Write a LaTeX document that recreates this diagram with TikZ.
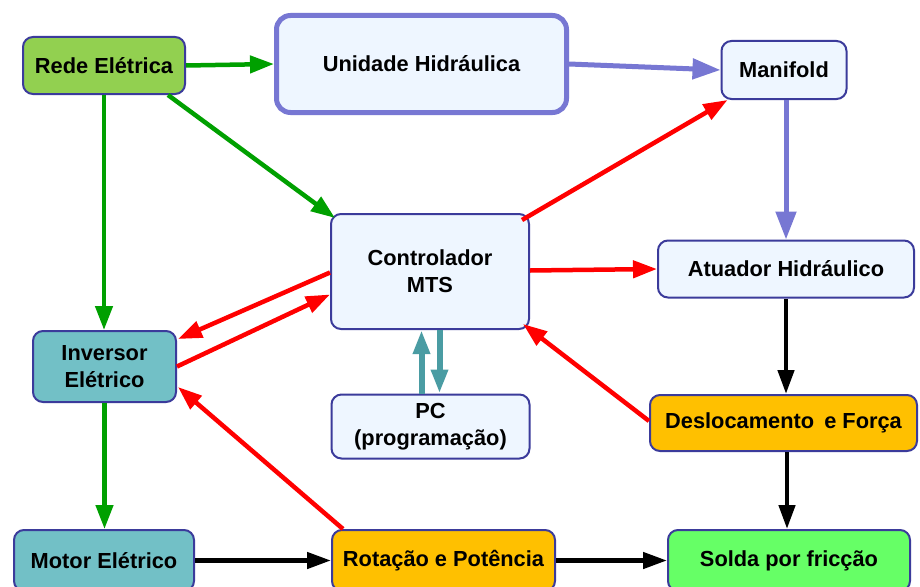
\documentclass[tikz,border=0pt]{standalone}
\usepackage{fontspec}
\setmainfont{Liberation Sans}
\usetikzlibrary{arrows.meta,calc}
\definecolor{bord}{HTML}{3B3B9B}
\definecolor{lightbg}{HTML}{EEF6FF}
\definecolor{redegreen}{HTML}{92D050}
\definecolor{tealfill}{HTML}{72C0C6}
\definecolor{orng}{HTML}{FFC000}
\definecolor{lgreen}{HTML}{66FF66}
\definecolor{agreen}{HTML}{00A000}
\definecolor{apurple}{HTML}{7777D3}
\definecolor{ateal}{HTML}{4A9CA3}
\definecolor{ared}{HTML}{FF0000}
\begin{document}
\begin{tikzpicture}[x=1pt,y=-1pt,
  box/.style={draw=bord, line width=2pt, rounded corners=10pt, fill=lightbg,
    font=\fontsize{21.8}{27}\selectfont\bfseries, align=center, inner sep=0pt},
  garrow/.style={draw=agreen, line width=4.5pt, -{Triangle[length=24pt,width=17pt]}},
  rarrow/.style={draw=ared, line width=4.5pt, -{Triangle[length=24pt,width=17pt]}},
  parrow/.style={draw=apurple, line width=5pt, -{Triangle[length=28pt,width=20pt]}},
  tarrow/.style={draw=ateal, line width=6pt, -{Triangle[length=24pt,width=16pt]}},
  karrow/.style={draw=black, line width=4.5pt, -{Triangle[length=24pt,width=16pt]}}]
\useasboundingbox (0,0) rectangle (920,586);
\clip (0,0) rectangle (920,586);
\fill[white] (0,0) rectangle (920,586);
% nodes
\node[box, fill=redegreen, minimum width=162pt, minimum height=57pt] (rede) at (104,65.5) {Rede Elétrica};
\node[box, draw=apurple, line width=5pt, rounded corners=14pt, minimum width=290pt, minimum height=97pt] (unid) at (421.5,64) {Unidade Hidráulica};
\node[box, minimum width=125pt, minimum height=58pt] (mani) at (784,70) {Manifold};
\node[box, minimum width=198pt, minimum height=115pt] (ctrl) at (430,271.5) {Controlador\\MTS};
\node[box, minimum width=256pt, minimum height=57pt] (atua) at (786,269) {Atuador Hidráulico};
\node[box, fill=tealfill, minimum width=143pt, minimum height=71pt] (inv) at (104.5,366.5) {Inversor\\Elétrico};
\node[box, minimum width=198pt, minimum height=64pt] (pc) at (430.5,426.5) {PC\\(programação)};
\node[box, fill=orng, minimum width=267pt, minimum height=56pt] (desl) at (783.5,423) {Deslocamento\hspace{4pt} e Força};
\node[box, fill=tealfill, minimum width=180pt, minimum height=61pt] (motor) at (104,560.5) {Motor Elétrico};
\node[box, fill=orng, minimum width=223pt, minimum height=61pt] (rot) at (443.5,560.5) {Rotação e Potência};
\node[box, fill=lgreen, minimum width=242pt, minimum height=61pt] (solda) at (789,560.5) {Solda por fricção};
% helper coordinates
\coordinate (m1) at ($(mani.south)+(2,0)$);
\coordinate (p1) at ($(pc.north)+(-9,0)$);
\coordinate (p2) at ($(pc.north)+(9,0)$);
\coordinate (d1) at ($(desl.south)+(3.5,0)$);
% green arrows
\draw[garrow] (rede.east) -- (unid.west);
\draw[garrow] ($(rede.south east)+(-18,0)$) -- ($(ctrl.north west)+(5,5)$);
\draw[garrow] (rede.south) -- (rede.south |- inv.north);
\draw[garrow] (inv.south) -- (inv.south |- motor.north);
% purple arrows
\draw[parrow] (unid.east) -- (mani.west);
\draw[parrow] (m1) -- (m1 |- atua.north);
% red arrows
\draw[rarrow] ($(ctrl.north east)+(-8,7)$) -- ($(mani.south west)+(7,0)$);
\draw[rarrow] ($(ctrl.east)+(0,-1)$) -- (atua.west);
\draw[rarrow] ($(ctrl.west)+(0,1)$) -- ($(inv.north east)+(1,9)$);
\draw[rarrow] (inv.east) -- ($(ctrl.west)+(0,23)$);
\draw[rarrow] ($(rot.north west)+(12,0)$) -- ($(inv.south east)+(1,-16)$);
\draw[rarrow] ($(desl.west)+(0,-2)$) -- ($(ctrl.south east)+(-7,-6)$);
% teal arrows
\draw[tarrow] (p1) -- (p1 |- ctrl.south);
\draw[tarrow] (p2 |- ctrl.south) -- (p2);
% black arrows
\draw[karrow] (atua.south) -- (atua.south |- desl.north);
\draw[karrow] (d1) -- (d1 |- solda.north);
\draw[karrow] (motor.east) -- (rot.west);
\draw[karrow] (rot.east) -- (solda.west);
\end{tikzpicture}
\end{document}
